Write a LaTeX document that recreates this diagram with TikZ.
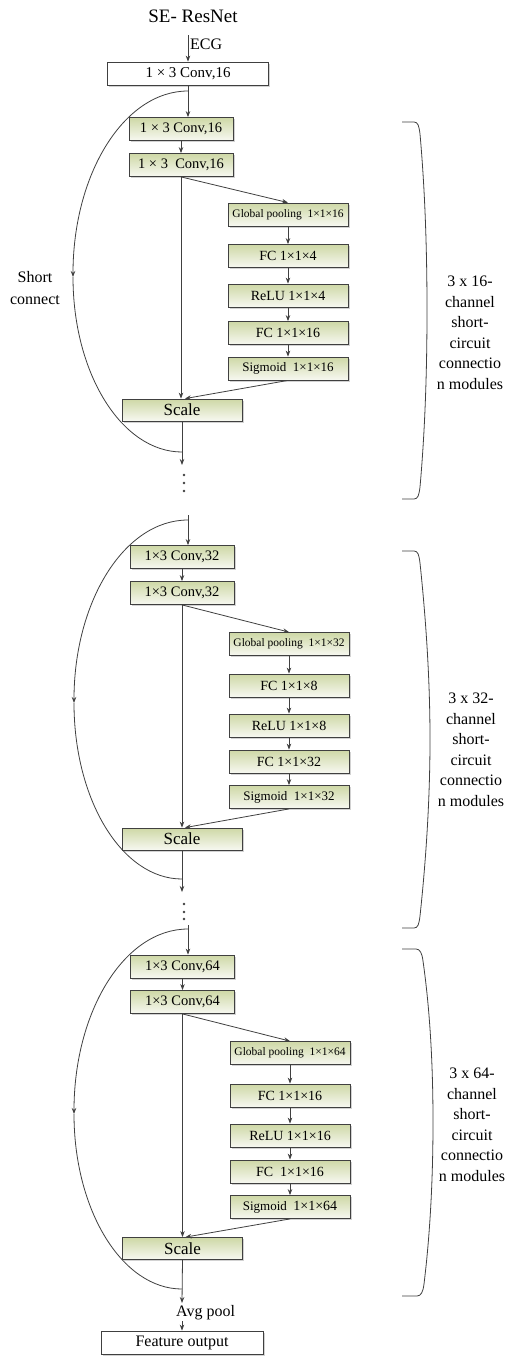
\documentclass[tikz,border=0pt]{standalone}
\usepackage{fontspec}
\setmainfont{Liberation Serif}
\usetikzlibrary{arrows.meta,shadows}
\definecolor{lc}{RGB}{64,64,64}
\definecolor{gtop}{RGB}{206,216,166}
\definecolor{gbot}{RGB}{247,248,241}
\tikzset{
  line/.style={draw=lc,line width=0.8pt},
  arr/.style={line,-{Stealth[length=6pt,width=4.5pt]}},
  boxbase/.style={draw=lc,line width=0.8pt,inner sep=0pt,minimum height=23pt,
    drop shadow={shadow xshift=1.5pt,shadow yshift=-1.5pt,fill=black!35}},
  wbox/.style={boxbase,fill=white,minimum width=161pt,font=\fontsize{15}{18}\selectfont},
  gbox/.style={boxbase,top color=gtop,bottom color=gbot,minimum width=104pt,font=\fontsize{14.5}{17}\selectfont},
  sebox/.style={boxbase,top color=gtop,bottom color=gbot,minimum width=120pt,font=\fontsize{14}{17}\selectfont},
  gpbox/.style={sebox,font=\fontsize{11.5}{14}\selectfont},
  scbox/.style={boxbase,top color=gtop,bottom color=gbot,minimum width=120pt,minimum height=22pt,font=\fontsize{17}{20}\selectfont},
  lbl/.style={font=\fontsize{16}{20.5}\selectfont,align=center,inner sep=0pt},
  dotc/.style={fill=lc,circle,inner sep=0pt,minimum size=2.8pt}
}
\begin{document}
\begin{tikzpicture}[x=1pt,y=-1pt]
\fill[white] (0,0) rectangle (506,1357);
\useasboundingbox (0,0) rectangle (506,1357);

% title and input
\node (title) at (193,16) {\fontsize{19}{22}\selectfont SE- ResNet};
\coordinate (ecgtop) at (188,35);
\node[anchor=west,inner sep=0pt] (ecg) at (190,44) {\fontsize{16}{19}\selectfont ECG};
\node[wbox] (box1) at (188,73.5) {1 × 3 Conv,16};
\draw[arr] (ecgtop) -- (ecgtop |- box1.north);

% ---------------- module 1
\node[gbox] (a1) at (181,129) {1 × 3 Conv,16};
\node[gbox] (b1) at (181,165) {1 × 3 \ Conv,16};
\node[gpbox] (gp1) at (288,214.5) {Global pooling \ 1×1×16};
\node[sebox] (fc1) at (288,256) {FC 1×1×4};
\node[sebox] (relu1) at (288,295.5) {ReLU 1×1×4};
\node[sebox] (fcb1) at (288,333) {FC 1×1×16};
\node[sebox] (sig1) at (288,368.5) {\fontsize{13}{16}\selectfont Sigmoid \ 1×1×16};
\node[scbox] (scale1) at (182,410) {Scale};
\coordinate (s1) at (188,91);
\coordinate (m1) at (73,277);
\coordinate (e1) at (182,452);
\coordinate (out1) at (182,465);

\draw[arr] (box1.south) -- (box1.south |- a1.north);
\draw[arr] (a1.south) -- (b1.north);
\draw[arr] (b1.south) -- (gp1.north);
\draw[arr] (gp1.south) -- (fc1.north);
\draw[arr] (fc1.south) -- (relu1.north);
\draw[arr] (relu1.south) -- (fcb1.north);
\draw[arr] (fcb1.south) -- (sig1.north);
\draw[arr] (b1.south) -- (b1.south |- scale1.north);
\draw[arr] (sig1.south) -- ([xshift=3pt]scale1.north);
\draw[arr] (scale1.south) -- (out1);
\draw[arr] (s1) .. controls (124,91) and (73,174) .. (m1);
\draw[line] (m1) .. controls (73,374) and (122,452) .. (e1);
\node[dotc] (d1a) at (184,475) {};
\node[dotc] (d1b) at (184,483) {};
\node[dotc] (d1c) at (184,491) {};
\node[lbl,font=\fontsize{16}{22}\selectfont] (short) at (35,288) {Short\\connect};

% ---------------- module 2
\coordinate (in2) at (188,515);
\node[gbox] (c2) at (182,557) {1×3 Conv,32};
\node[gbox] (d2) at (182,593) {1×3 Conv,32};
\node[gpbox] (gp2) at (289,644) {Global pooling \ 1×1×32};
\node[sebox] (fc2) at (289,685.5) {FC 1×1×8};
\node[sebox] (relu2) at (289,725.5) {ReLU 1×1×8};
\node[sebox] (fcb2) at (289,761.5) {FC 1×1×32};
\node[sebox] (sig2) at (289,797) {\fontsize{13}{16}\selectfont Sigmoid \ 1×1×32};
\node[scbox] (scale2) at (182,839) {Scale};
\coordinate (s2) at (188,520);
\coordinate (m2) at (74,703);
\coordinate (e2) at (182,879);
\coordinate (out2) at (182,892);

\draw[arr] (in2) -- (in2 |- c2.north);
\draw[arr] (c2.south) -- (d2.north);
\draw[arr] (d2.south) -- (gp2.north);
\draw[arr] (gp2.south) -- (fc2.north);
\draw[arr] (fc2.south) -- (relu2.north);
\draw[arr] (relu2.south) -- (fcb2.north);
\draw[arr] (fcb2.south) -- (sig2.north);
\draw[arr] (d2.south) -- (d2.south |- scale2.north);
\draw[arr] (sig2.south) -- ([xshift=3pt]scale2.north);
\draw[arr] (scale2.south) -- (out2);
\draw[arr] (s2) .. controls (124,520) and (74,602) .. (m2);
\draw[line] (m2) .. controls (74,800) and (122,879) .. (e2);
\node[dotc] (d2a) at (184,904) {};
\node[dotc] (d2b) at (184,912) {};
\node[dotc] (d2c) at (184,919) {};

% ---------------- module 3
\coordinate (in3) at (188,925);
\node[gbox] (c3) at (182.5,966.5) {1×3 Conv,64};
\node[gbox] (f3) at (182.5,1002) {1×3 Conv,64};
\node[gpbox] (gp3) at (290,1053) {Global pooling \ 1×1×64};
\node[sebox] (fc3) at (290,1095.5) {FC 1×1×16};
\node[sebox] (relu3) at (290,1135.5) {ReLU 1×1×16};
\node[sebox] (fcb3) at (290,1171.5) {FC \ 1×1×16};
\node[sebox] (sig3) at (290,1207) {\fontsize{13}{16}\selectfont Sigmoid \ \fontsize{14}{16}\selectfont 1×1×64};
\node[scbox] (scale3) at (182.5,1248.5) {Scale};
\coordinate (s3) at (188,929);
\coordinate (m3) at (74,1114);
\coordinate (e3) at (182,1289);
\coordinate (out3) at (182,1303);

\draw[arr] (in3) -- (in3 |- c3.north);
\draw[arr] (c3.south) -- (f3.north);
\draw[arr] (f3.south) -- (gp3.north);
\draw[arr] (gp3.south) -- (fc3.north);
\draw[arr] (fc3.south) -- (relu3.north);
\draw[arr] (relu3.south) -- (fcb3.north);
\draw[arr] (fcb3.south) -- (sig3.north);
\draw[arr] (f3.south) -- (f3.south |- scale3.north);
\draw[arr] (sig3.south) -- ([xshift=3pt]scale3.north);
\draw[arr] (scale3.south) -- (out3);
\draw[arr] (s3) .. controls (124,929) and (74,1012) .. (m3);
\draw[line] (m3) .. controls (74,1210) and (122,1289) .. (e3);

% ---------------- output
\node[anchor=west,inner sep=0pt] (avg) at (176,1313) {\fontsize{16}{19}\selectfont Avg pool};
\node[wbox,minimum width=162pt,font=\fontsize{16}{19}\selectfont] (feat) at (182,1342.5) {Feature output};
\coordinate (avgb) at (182,1321);
\draw[arr] (avgb) -- (feat.north);

% ---------------- braces
\draw[line] (402,122) -- (414,122) .. controls (418,122) and (419,126) .. (420,134)
  .. controls (425,190) and (427,250) .. (427,310.5)
  .. controls (427,371) and (425,431) .. (420,487)
  .. controls (419,495) and (418,499) .. (414,499) -- (402,499);
\draw[line] (402,551) -- (414,551) .. controls (418,551) and (419,555) .. (420,563)
  .. controls (426,620) and (430,680) .. (430,739.5)
  .. controls (430,799) and (426,860) .. (420,916)
  .. controls (419,924) and (418,928) .. (414,928) -- (402,928);
\draw[line] (402,949) -- (416,949) .. controls (420,949) and (422,953) .. (423,961)
  .. controls (430,1010) and (433,1065) .. (433,1122)
  .. controls (433,1180) and (430,1235) .. (424,1284)
  .. controls (423,1292) and (421,1296) .. (417,1296) -- (402,1296);

\node[lbl] (t1) at (470,333) {3 x 16-\\channel\\short-\\circuit\\connectio\\n modules};
\node[lbl] (t2) at (471,750) {3 x 32-\\channel\\short-\\circuit\\connectio\\n modules};
\node[lbl] (t3) at (472,1125) {3 x 64-\\channel\\short-\\circuit\\connectio\\n modules};
\end{tikzpicture}
\end{document}
